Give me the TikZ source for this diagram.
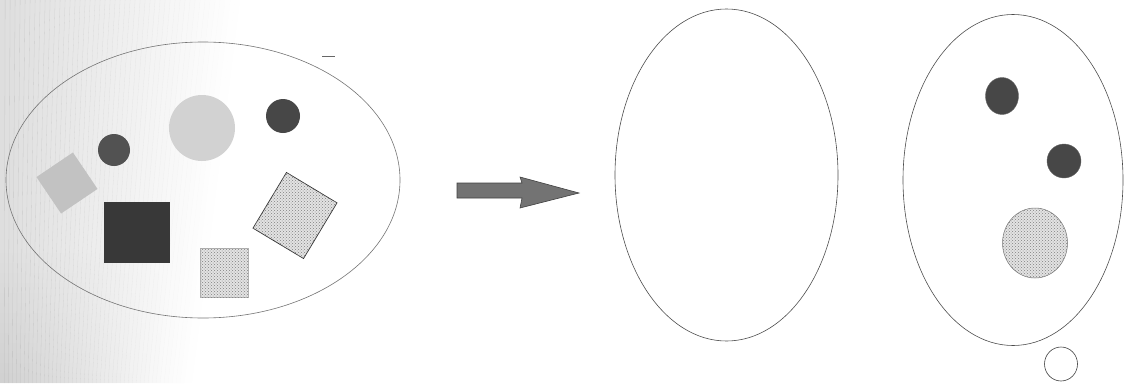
\documentclass[tikz,border=0pt]{standalone}
\usetikzlibrary{shapes.geometric,patterns}
\begin{document}
\begin{tikzpicture}[x=1pt,y=-1pt,
  plate/.style={ellipse, inner sep=0pt, draw=black!70, line width=0.6pt},
  darkdot/.style={ellipse, inner sep=0pt, fill=black!72, draw=black!60, line width=0.4pt},
  speck/.style={fill=gray!22, draw=black!55, line width=0.5pt, postaction={pattern=crosshatch dots, pattern color=black!50}},
  blur/.style={inner sep=0pt, draw=none}
]
\useasboundingbox (0,0) rectangle (1126,383);
% stippled background at the left, fading to the right
\foreach \i in {0,...,47} {
  \pgfmathsetmacro{\op}{0.26*(1-\i/48)}
  \fill[gray, opacity=\op] (\i*5,0) -- (\i*5+5.3,0) -- (\i*4+4.3,383) -- (\i*4,383) -- cycle;
}
\foreach \i in {0,...,15} {
  \foreach \j in {0,...,12} {
    \pgfmathsetmacro{\op}{0.14*(1-\i/16)*(\j+1)/13}
    \fill[gray, opacity=\op] (\i*10,253+\j*10) rectangle (\i*10+10.3,263.3+\j*10);
  }
}

% left plate and its contents
\node[plate, draw=black!55, minimum width=394, minimum height=276] (left) at (203,180) {};
\node[blur, circle, fill=gray!35, minimum size=66] (bigc) at (202,128) {};
\node[darkdot, draw=none, minimum width=34, minimum height=34] (d1) at (283,116) {};
\node[darkdot, draw=none, fill=black!68, minimum width=32, minimum height=32] (d2) at (114,150) {};
\node[blur, rectangle, fill=gray!48, minimum width=44, minimum height=44, rotate=34] (sq1) at (67,183) {};
\node[blur, rectangle, fill=black!78, minimum width=66, minimum height=61] (sq2) at (137,232.5) {};
\node[speck, rectangle, inner sep=0pt, draw=gray!60, minimum width=48, minimum height=49] (sq3) at (224,272.5) {};
\node[speck, rectangle, inner sep=0pt, draw=black!80, line width=0.7pt, minimum width=59, minimum height=65, rotate=-31] (sq4) at (295,215.5) {};
\draw[black!60, line width=0.8pt] (322,56) -- (335,56);

% arrow
\coordinate (tail) at (457,190.5);
\coordinate (tip) at (579,193);
\fill[black!55, draw=black!75, line width=0.6pt]
  (tail) ++(0,-7.5) -- (522,183) -- (520,177) -- (tip) -- (520,208) -- (522,198) -- ++(-65,0) -- cycle;

% middle plate
\node[plate, minimum width=223, minimum height=332] (mid) at (726.5,175) {};

% right plate and its contents
\node[plate, minimum width=220, minimum height=331] (right) at (1013,180) {};
\node[darkdot, minimum width=33, minimum height=37] (r1) at (1002,96) {};
\node[darkdot, minimum width=34, minimum height=34] (r2) at (1064,161) {};
\node[speck, ellipse, inner sep=0pt, minimum width=65, minimum height=70] (r3) at (1035,243) {};
\node[ellipse, inner sep=0pt, draw=black!75, line width=0.6pt, minimum width=33, minimum height=34] (r4) at (1061,364) {};
\end{tikzpicture}
\end{document}
